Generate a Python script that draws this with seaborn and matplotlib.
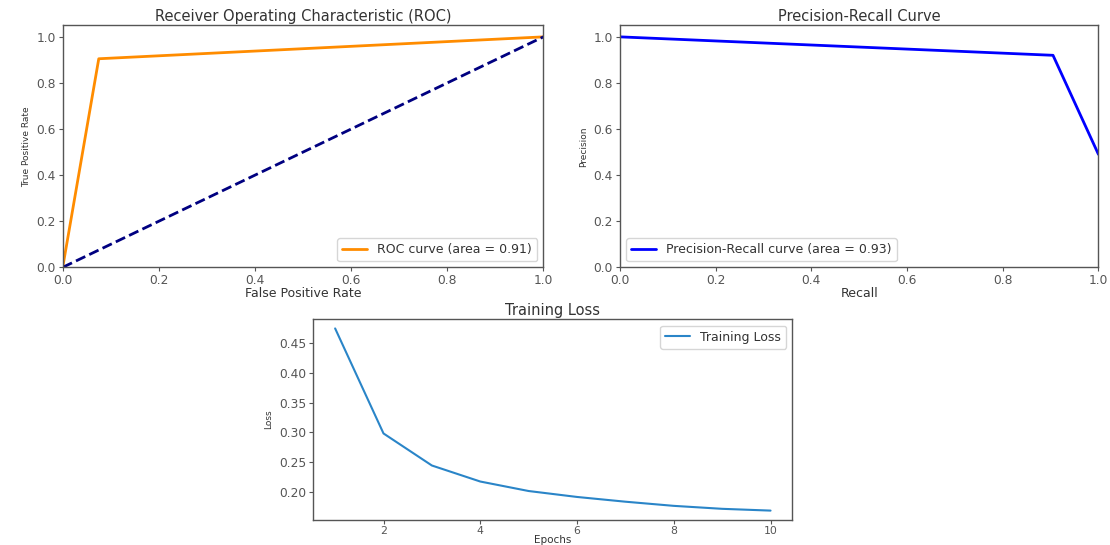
import numpy as np
import pandas as pd
import matplotlib
matplotlib.use("Agg")
import matplotlib.pyplot as plt
import seaborn as sns

# values
fpr = [0.0, 0.075, 1.0]
tpr = [0.0, 0.905, 1.0]
roc_auc = 0.91

recall = [1.0, 0.905, 0.0]
precision = [0.49, 0.92, 1.0]
pr_auc = 0.93

epochs = [1, 2, 3, 4, 5, 6, 7, 8, 9, 10]
train_loss = [0.475, 0.298, 0.244, 0.217, 0.201, 0.191, 0.183, 0.176, 0.171, 0.168]

sns.set_style("ticks", {"axes.edgecolor": "#555555", "xtick.color": "#555555", "ytick.color": "#555555"})
plt.rcParams["font.family"] = ["DejaVu Sans"]
plt.rcParams["text.color"] = "#333333"
plt.rcParams["axes.labelcolor"] = "#333333"

tick_fs = 8.8
legend_fs = 9
title_fs = 10.5
xlab_fs = 9

fig = plt.figure(figsize=(11.1, 5.45), dpi=100)
ax1 = fig.add_axes([0.0565, 0.5095, 0.433, 0.444])
ax2 = fig.add_axes([0.5586, 0.5095, 0.431, 0.444])
ax3 = fig.add_axes([0.2823, 0.0464, 0.4315, 0.3677])

# ROC
roc_df = pd.DataFrame({"fpr": fpr, "tpr": tpr})
sns.lineplot(data=roc_df, x="fpr", y="tpr", ax=ax1, color="darkorange", lw=2,
             sort=False, label=f"ROC curve (area = {roc_auc:.2f})")
sns.lineplot(x=[0, 1], y=[0, 1], ax=ax1, color="navy", lw=2, linestyle="--")
ax1.set_xlim(0.0, 1.0)
ax1.set_ylim(0.0, 1.05)
ax1.set_xlabel("False Positive Rate", fontsize=xlab_fs, labelpad=0)
ax1.set_ylabel("True Positive Rate", fontsize=6.5, labelpad=4)
ax1.set_title("Receiver Operating Characteristic (ROC)", fontsize=title_fs, pad=3)
ax1.legend(loc="lower right", fontsize=legend_fs)

# Precision-Recall
pr_df = pd.DataFrame({"recall": recall, "precision": precision})
sns.lineplot(data=pr_df, x="recall", y="precision", ax=ax2, color="blue", lw=2,
             sort=False, label=f"Precision-Recall curve (area = {pr_auc:.2f})")
ax2.set_xlim(0.0, 1.0)
ax2.set_ylim(0.0, 1.05)
ax2.set_xlabel("Recall", fontsize=xlab_fs, labelpad=0)
ax2.set_ylabel("Precision", fontsize=6.5, labelpad=4)
ax2.set_title("Precision-Recall Curve", fontsize=title_fs, pad=3)
ax2.legend(loc="lower left", fontsize=legend_fs)

# Training loss
loss_df = pd.DataFrame({"epoch": epochs, "loss": train_loss})
sns.lineplot(data=loss_df, x="epoch", y="loss", ax=ax3, color="#2a85c8", lw=1.5,
             label="Training Loss")
ax3.set_xticks([2, 4, 6, 8, 10])
ax3.set_xlabel("Epochs", fontsize=7.5, labelpad=-1)
ax3.set_ylabel("Loss", fontsize=6.5, labelpad=4)
ax3.set_title("Training Loss", fontsize=title_fs, pad=3)
ax3.legend(loc="upper right", fontsize=legend_fs)

for ax in (ax1, ax2, ax3):
    ax.tick_params(labelsize=tick_fs, length=3, width=0.8, pad=2)
    for s in ax.spines.values():
        s.set_linewidth(1.0)
ax3.tick_params(axis="x", labelsize=7.8, pad=1.5)

fig.savefig("out.png", dpi=100)
